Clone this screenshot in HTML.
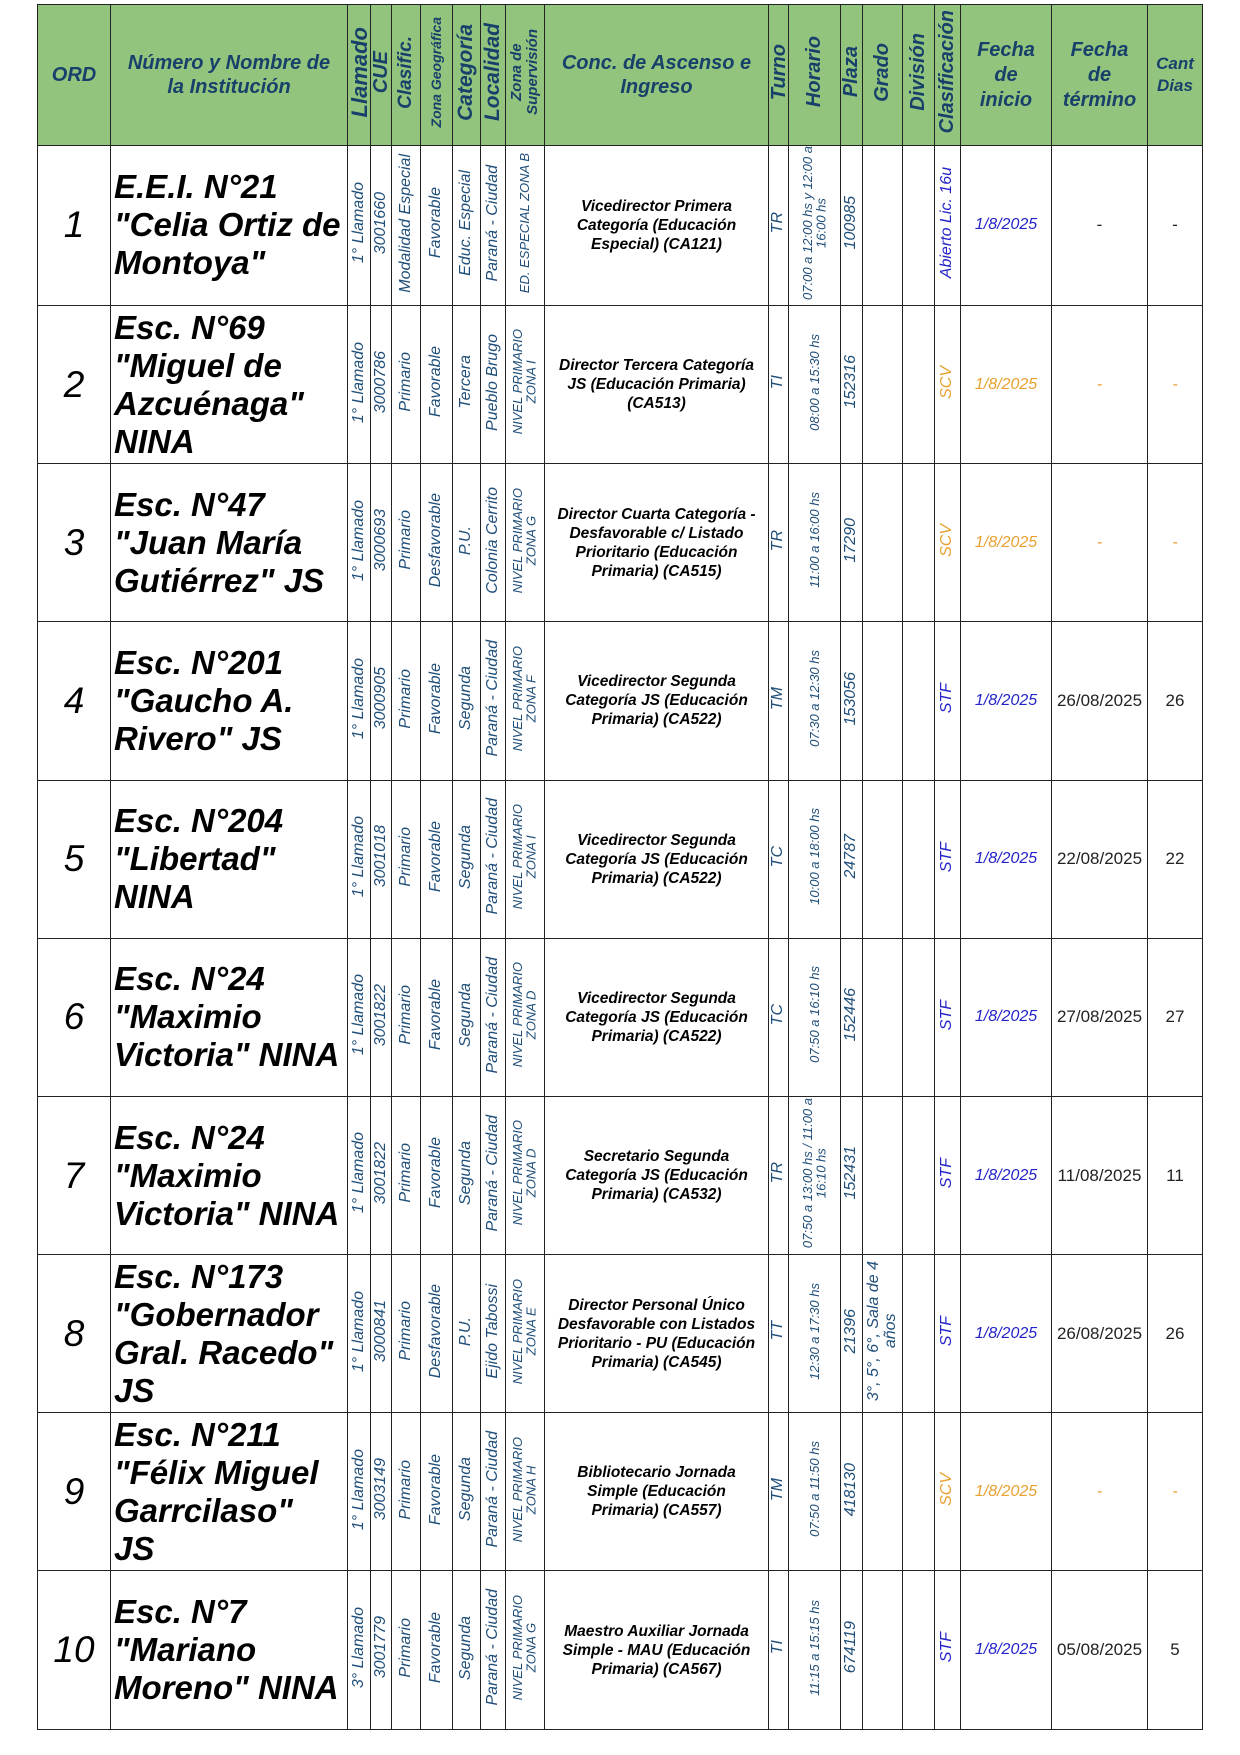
<!DOCTYPE html>
<html><head><meta charset="utf-8"><style>
body{margin:0;width:1240px;height:1755px;background:#fff;position:relative;font-family:"Liberation Sans",sans-serif;}
table{position:absolute;left:37px;top:4px;border-collapse:collapse;table-layout:fixed;width:1166px;}
td{border:1px solid #222;padding:0;text-align:center;vertical-align:middle;overflow:hidden;font-style:italic;color:#1f4e79;}
tr.h td{background:#93c47d;font-weight:bold;color:#17406a;font-size:20px;height:140px;line-height:24px;}
tr.r td{height:157.2px;}
.v{writing-mode:vertical-rl;transform:rotate(180deg);display:inline-block;white-space:nowrap;line-height:1.05;}
.n{text-align:left;font-weight:bold;color:#000;font-size:33px;line-height:38px;white-space:nowrap;padding-left:3px;}
.o{color:#000;font-size:37px;font-style:italic;}
.c{color:#000;font-weight:bold;font-size:15.5px;line-height:19px;}
.s{font-size:16px;}
.x{font-size:13px;}
.bl{color:#2323c8;font-size:16px;}
.or td.k{color:#e8a030;}
.d{color:#222;font-size:17px;font-style:normal;}
</style></head><body>
<table>
<colgroup>
<col style="width:73px"><col style="width:237px"><col style="width:23px"><col style="width:21px"><col style="width:29px"><col style="width:32px"><col style="width:28px"><col style="width:25px"><col style="width:39px"><col style="width:224px"><col style="width:20px"><col style="width:52px"><col style="width:22px"><col style="width:40px"><col style="width:32px"><col style="width:26px"><col style="width:91px"><col style="width:96px"><col style="width:55px">
</colgroup>
<tr class="h">
<td>ORD</td><td>Número y Nombre de<br>la Institución</td>
<td><span class="v" style="font-size:22px">Llamado</span></td>
<td><span class="v">CUE</span></td>
<td><span class="v" style="font-size:19px">Clasific.</span></td>
<td><span class="v" style="font-size:14px">Zona Geográfica</span></td>
<td><span class="v" style="font-size:21px">Categoría</span></td>
<td><span class="v" style="font-size:21px">Localidad</span></td>
<td><span class="v" style="font-size:15px">Zona de<br>Supervisión</span></td>
<td>Conc. de Ascenso e<br>Ingreso</td>
<td><span class="v">Turno</span></td>
<td><span class="v">Horario</span></td>
<td><span class="v">Plaza</span></td>
<td><span class="v">Grado</span></td>
<td><span class="v">División</span></td>
<td><span class="v">Clasificación</span></td>
<td style="line-height:25px">Fecha<br>de<br>inicio</td>
<td style="line-height:25px">Fecha<br>de<br>término</td>
<td style="font-size:17px;line-height:22px">Cant<br>Dias</td>
</tr>

<tr class="r"><td class="o">1</td><td class="n">E.E.I. N°21<br>"Celia Ortiz de<br>Montoya"</td>
<td><span class="v s">1° Llamado</span></td><td><span class="v s">3001660</span></td><td><span class="v s">Modalidad Especial</span></td><td><span class="v s">Favorable</span></td><td><span class="v s">Educ. Especial</span></td><td><span class="v s">Paraná - Ciudad</span></td><td><span class="v x">ED. ESPECIAL ZONA B</span></td>
<td class="c">Vicedirector Primera<br>Categoría (Educación<br>Especial) (CA121)</td>
<td><span class="v s">TR</span></td><td><span class="v x">07:00 a 12:00 hs y 12:00 a<br>16:00 hs</span></td><td><span class="v s">100985</span></td><td></td><td></td><td class="bl"><span class="v">Abierto Lic. 16u</span></td><td class="bl">1/8/2025</td><td class="d">-</td><td class="d">-</td></tr>

<tr class="r or"><td class="o">2</td><td class="n">Esc. N°69<br>"Miguel de<br>Azcuénaga"<br>NINA</td>
<td><span class="v s">1° Llamado</span></td><td><span class="v s">3000786</span></td><td><span class="v s">Primario</span></td><td><span class="v s">Favorable</span></td><td><span class="v s">Tercera</span></td><td><span class="v s">Pueblo Brugo</span></td><td><span class="v x">NIVEL PRIMARIO<br>ZONA I</span></td>
<td class="c">Director Tercera Categoría<br>JS (Educación Primaria)<br>(CA513)</td>
<td><span class="v s">TI</span></td><td><span class="v x">08:00 a 15:30 hs</span></td><td><span class="v s">152316</span></td><td></td><td></td><td class="k s"><span class="v">SCV</span></td><td class="k s">1/8/2025</td><td class="k">-</td><td class="k">-</td></tr>

<tr class="r or"><td class="o">3</td><td class="n">Esc. N°47<br>"Juan María<br>Gutiérrez" JS</td>
<td><span class="v s">1° Llamado</span></td><td><span class="v s">3000693</span></td><td><span class="v s">Primario</span></td><td><span class="v s">Desfavorable</span></td><td><span class="v s">P.U.</span></td><td><span class="v s">Colonia Cerrito</span></td><td><span class="v x">NIVEL PRIMARIO<br>ZONA G</span></td>
<td class="c">Director Cuarta Categoría -<br>Desfavorable c/ Listado<br>Prioritario (Educación<br>Primaria) (CA515)</td>
<td><span class="v s">TR</span></td><td><span class="v x">11:00 a 16:00 hs</span></td><td><span class="v s">17290</span></td><td></td><td></td><td class="k s"><span class="v">SCV</span></td><td class="k s">1/8/2025</td><td class="k">-</td><td class="k">-</td></tr>

<tr class="r"><td class="o">4</td><td class="n">Esc. N°201<br>"Gaucho A.<br>Rivero" JS</td>
<td><span class="v s">1° Llamado</span></td><td><span class="v s">3000905</span></td><td><span class="v s">Primario</span></td><td><span class="v s">Favorable</span></td><td><span class="v s">Segunda</span></td><td><span class="v s">Paraná - Ciudad</span></td><td><span class="v x">NIVEL PRIMARIO<br>ZONA F</span></td>
<td class="c">Vicedirector Segunda<br>Categoría JS (Educación<br>Primaria) (CA522)</td>
<td><span class="v s">TM</span></td><td><span class="v x">07:30 a 12:30 hs</span></td><td><span class="v s">153056</span></td><td></td><td></td><td class="bl"><span class="v">STF</span></td><td class="bl">1/8/2025</td><td class="d">26/08/2025</td><td class="d">26</td></tr>

<tr class="r"><td class="o">5</td><td class="n">Esc. N°204<br>"Libertad"<br>NINA</td>
<td><span class="v s">1° Llamado</span></td><td><span class="v s">3001018</span></td><td><span class="v s">Primario</span></td><td><span class="v s">Favorable</span></td><td><span class="v s">Segunda</span></td><td><span class="v s">Paraná - Ciudad</span></td><td><span class="v x">NIVEL PRIMARIO<br>ZONA I</span></td>
<td class="c">Vicedirector Segunda<br>Categoría JS (Educación<br>Primaria) (CA522)</td>
<td><span class="v s">TC</span></td><td><span class="v x">10:00 a 18:00 hs</span></td><td><span class="v s">24787</span></td><td></td><td></td><td class="bl"><span class="v">STF</span></td><td class="bl">1/8/2025</td><td class="d">22/08/2025</td><td class="d">22</td></tr>

<tr class="r"><td class="o">6</td><td class="n">Esc. N°24<br>"Maximio<br>Victoria" NINA</td>
<td><span class="v s">1° Llamado</span></td><td><span class="v s">3001822</span></td><td><span class="v s">Primario</span></td><td><span class="v s">Favorable</span></td><td><span class="v s">Segunda</span></td><td><span class="v s">Paraná - Ciudad</span></td><td><span class="v x">NIVEL PRIMARIO<br>ZONA D</span></td>
<td class="c">Vicedirector Segunda<br>Categoría JS (Educación<br>Primaria) (CA522)</td>
<td><span class="v s">TC</span></td><td><span class="v x">07:50 a 16:10 hs</span></td><td><span class="v s">152446</span></td><td></td><td></td><td class="bl"><span class="v">STF</span></td><td class="bl">1/8/2025</td><td class="d">27/08/2025</td><td class="d">27</td></tr>

<tr class="r"><td class="o">7</td><td class="n">Esc. N°24<br>"Maximio<br>Victoria" NINA</td>
<td><span class="v s">1° Llamado</span></td><td><span class="v s">3001822</span></td><td><span class="v s">Primario</span></td><td><span class="v s">Favorable</span></td><td><span class="v s">Segunda</span></td><td><span class="v s">Paraná - Ciudad</span></td><td><span class="v x">NIVEL PRIMARIO<br>ZONA D</span></td>
<td class="c">Secretario Segunda<br>Categoría JS (Educación<br>Primaria) (CA532)</td>
<td><span class="v s">TR</span></td><td><span class="v x">07:50 a 13:00 hs / 11:00 a<br>16:10 hs</span></td><td><span class="v s">152431</span></td><td></td><td></td><td class="bl"><span class="v">STF</span></td><td class="bl">1/8/2025</td><td class="d">11/08/2025</td><td class="d">11</td></tr>

<tr class="r"><td class="o">8</td><td class="n">Esc. N°173<br>"Gobernador<br>Gral. Racedo"<br>JS</td>
<td><span class="v s">1° Llamado</span></td><td><span class="v s">3000841</span></td><td><span class="v s">Primario</span></td><td><span class="v s">Desfavorable</span></td><td><span class="v s">P.U.</span></td><td><span class="v s">Ejido Tabossi</span></td><td><span class="v x">NIVEL PRIMARIO<br>ZONA E</span></td>
<td class="c">Director Personal Único<br>Desfavorable con Listados<br>Prioritario - PU (Educación<br>Primaria) (CA545)</td>
<td><span class="v s">TT</span></td><td><span class="v x">12:30 a 17:30 hs</span></td><td><span class="v s">21396</span></td><td><span class="v s">3°, 5°, 6°, Sala de 4<br>años</span></td><td></td><td class="bl"><span class="v">STF</span></td><td class="bl">1/8/2025</td><td class="d">26/08/2025</td><td class="d">26</td></tr>

<tr class="r or"><td class="o">9</td><td class="n">Esc. N°211<br>"Félix Miguel<br>Garrcilaso"<br>JS</td>
<td><span class="v s">1° Llamado</span></td><td><span class="v s">3003149</span></td><td><span class="v s">Primario</span></td><td><span class="v s">Favorable</span></td><td><span class="v s">Segunda</span></td><td><span class="v s">Paraná - Ciudad</span></td><td><span class="v x">NIVEL PRIMARIO<br>ZONA H</span></td>
<td class="c">Bibliotecario Jornada<br>Simple (Educación<br>Primaria) (CA557)</td>
<td><span class="v s">TM</span></td><td><span class="v x">07:50 a 11:50 hs</span></td><td><span class="v s">418130</span></td><td></td><td></td><td class="k s"><span class="v">SCV</span></td><td class="k s">1/8/2025</td><td class="k">-</td><td class="k">-</td></tr>

<tr class="r"><td class="o">10</td><td class="n">Esc. N°7<br>"Mariano<br>Moreno" NINA</td>
<td><span class="v s">3° Llamado</span></td><td><span class="v s">3001779</span></td><td><span class="v s">Primario</span></td><td><span class="v s">Favorable</span></td><td><span class="v s">Segunda</span></td><td><span class="v s">Paraná - Ciudad</span></td><td><span class="v x">NIVEL PRIMARIO<br>ZONA G</span></td>
<td class="c">Maestro Auxiliar Jornada<br>Simple - MAU (Educación<br>Primaria) (CA567)</td>
<td><span class="v s">TI</span></td><td><span class="v x">11:15 a 15:15 hs</span></td><td><span class="v s">674119</span></td><td></td><td></td><td class="bl"><span class="v">STF</span></td><td class="bl">1/8/2025</td><td class="d">05/08/2025</td><td class="d">5</td></tr>
</table>
</body></html>
